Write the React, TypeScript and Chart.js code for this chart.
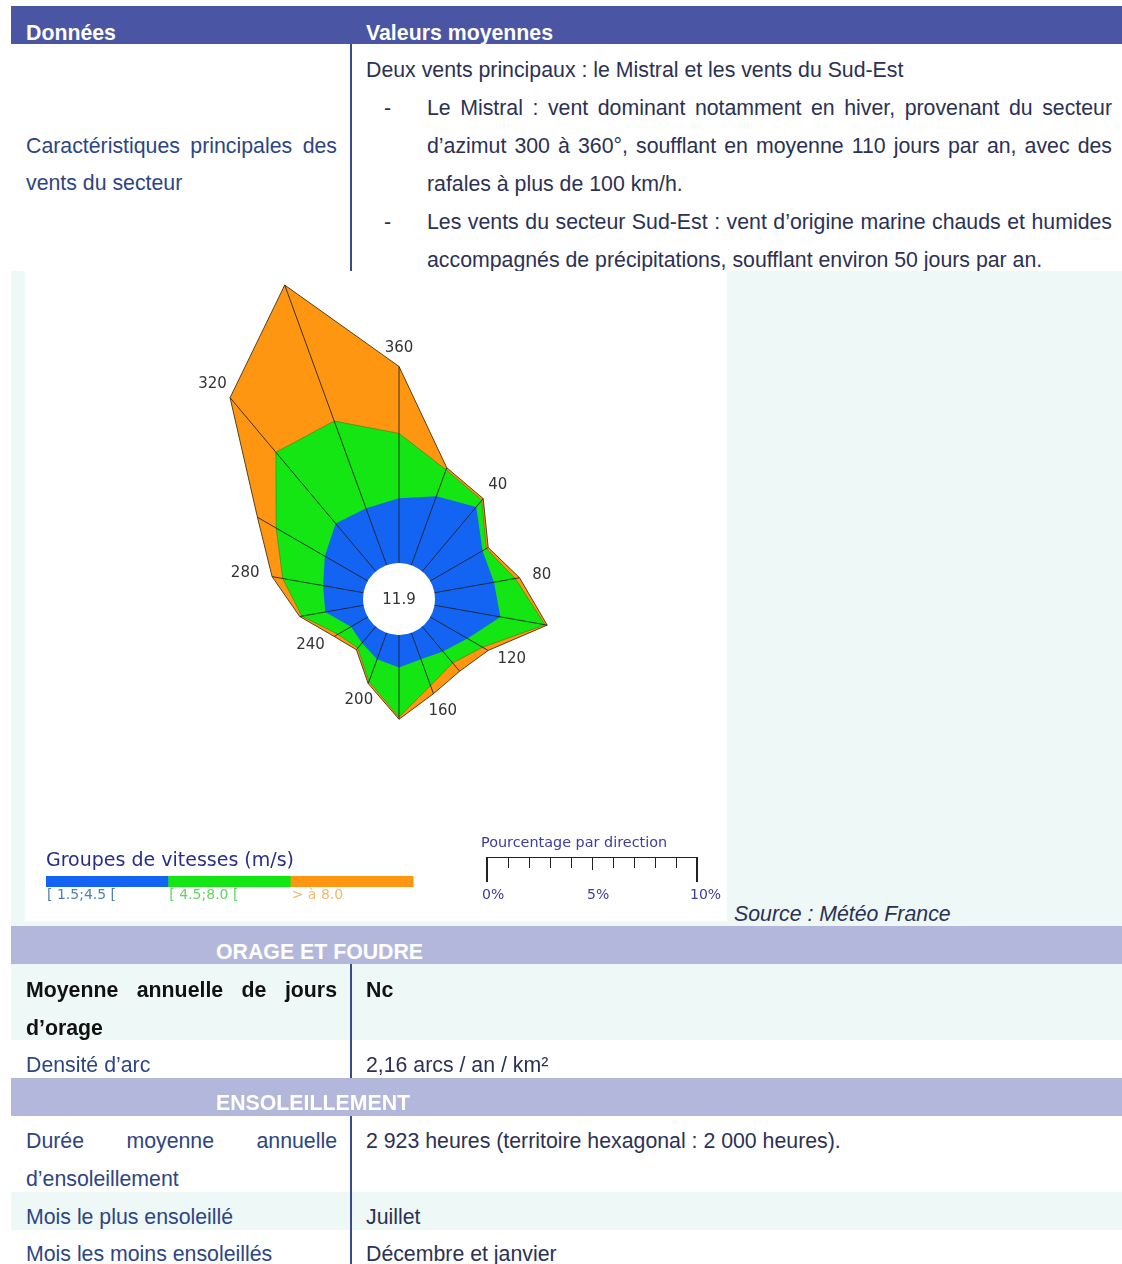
import React, { useEffect, useRef } from "react";
import { Chart, registerables } from "chart.js";

Chart.register(...registerables);

// ---- Wind rose data (percentage of observations per direction and speed group) ----
const DIRECTIONS = [0, 20, 40, 60, 80, 100, 120, 140, 160, 180, 200, 220, 240, 260, 280, 300, 320, 340];
const LABELLED_DIRECTIONS = [40, 80, 120, 160, 200, 240, 280, 320, 360];
const SPEED_GROUPS = ["[ 1.5;4.5 [", "[ 4.5;8.0 [", "> à 8.0"];
const PCT_1_5_TO_4_5 = [3.0, 3.4, 3.9, 2.8, 2.8, 3.1, 2.0, 1.5, 1.3, 1.5, 1.3, 1.0, 0.9, 1.8, 1.9, 2.3, 2.9, 2.8];
const PCT_4_5_TO_8_0 = [3.0, 1.3, 0.4, 0.2, 1.0, 2.1, 0.8, 0.7, 1.3, 2.3, 1.1, 0.3, 0.7, 1.1, 1.9, 2.6, 4.3, 4.3];
const PCT_OVER_8_0 = [3.1, 0.1, 0.1, 0.1, 0.2, 0.1, 0.3, 0.5, 0.4, 0.1, 0.1, 0.1, 0.2, 0.1, 0.5, 1.0, 3.3, 6.7];
const CALM_PCT = 11.9;
const SCALE_BAR_TICKS = [0, 5, 10];

const GROUP_COLORS = ["#1464f4", "#14e614", "#ff9612"];
const GROUP_TEXT_COLORS = ["#4f7fb8", "#62d462", "#f2b764"];

const FONT = '"Liberation Sans", Arial, sans-serif';
const CHART_FONT = '"DejaVu Sans", sans-serif';

// rose geometry
const CANVAS_W = 748;
const CANVAS_H = 656;
const HOLE_PX = 36;
const PX_PER_PCT = 21.6;
const DRAW_AREA = Math.floor(Math.min(CANVAS_W, CANVAS_H) / 2);
const R_MIN = -HOLE_PX / PX_PER_PCT;
const R_MAX = R_MIN + DRAW_AREA / PX_PER_PCT;

const cumBlue = PCT_1_5_TO_4_5.slice();
const cumGreen = cumBlue.map((v, i) => v + PCT_4_5_TO_8_0[i]);
const cumOrange = cumGreen.map((v, i) => v + PCT_OVER_8_0[i]);

// offsets of the canvas in the page
const OX = 25;
const OY = 271;

const rosePlugin = {
  id: "rosePlugin",
  afterDatasetsDraw(chart: any) {
    const ctx = chart.ctx;
    const r = chart.scales.r;
    ctx.save();
    // hole
    const hole = r.getDistanceFromCenterForValue(0);
    ctx.fillStyle = "#ffffff";
    ctx.beginPath();
    ctx.arc(r.xCenter, r.yCenter, hole, 0, Math.PI * 2);
    ctx.fill();
    // spokes
    ctx.strokeStyle = "rgba(30,30,30,0.85)";
    ctx.lineWidth = 1;
    DIRECTIONS.forEach((_d, i) => {
      const a = r.getPointPositionForValue(i, 0);
      const b = r.getPointPositionForValue(i, cumOrange[i]);
      ctx.beginPath();
      ctx.moveTo(a.x, a.y);
      ctx.lineTo(b.x, b.y);
      ctx.stroke();
    });
    // calm
    ctx.fillStyle = "#333333";
    ctx.font = "15px " + CHART_FONT;
    ctx.textAlign = "center";
    ctx.textBaseline = "middle";
    ctx.fillText(CALM_PCT.toFixed(1), r.xCenter, r.yCenter + 1);
    // direction labels
    LABELLED_DIRECTIONS.forEach((deg) => {
      const i = DIRECTIONS.indexOf(deg % 360);
      const p = r.getPointPositionForValue(i, cumOrange[i]);
      const ang = (deg * Math.PI) / 180;
      const dx = Math.sin(ang);
      const dy = -Math.cos(ang);
      const txt = String(deg);
      const hw = ctx.measureText(txt).width / 2;
      ctx.fillText(txt, p.x + dx * (13 + hw), p.y + dy * (13 + 5));
    });
    ctx.restore();
  },
  afterDraw(chart: any) {
    const ctx = chart.ctx;
    ctx.save();
    ctx.textBaseline = "middle";
    ctx.textAlign = "left";
    // speed groups legend
    ctx.fillStyle = "#262f88";
    ctx.font = "19px " + CHART_FONT;
    ctx.fillText("Groupes de vitesses (m/s)", 46 - OX, 861 - OY);
    const bw = (413 - 46) / SPEED_GROUPS.length;
    SPEED_GROUPS.forEach((g, k) => {
      ctx.fillStyle = GROUP_COLORS[k];
      ctx.fillRect(46 - OX + k * bw, 876 - OY, bw + 0.5, 11);
      ctx.fillStyle = GROUP_TEXT_COLORS[k];
      ctx.font = "14px " + CHART_FONT;
      ctx.fillText(g, 46 - OX + k * bw + 1, 895 - OY);
    });
    // scale bar
    ctx.fillStyle = "#3d3d9c";
    ctx.font = "14.4px " + CHART_FONT;
    ctx.fillText("Pourcentage par direction", 481 - OX, 843 - OY);
    const x0 = 487 - OX;
    const unit = 21;
    const yb = 857 - OY;
    ctx.strokeStyle = "#222222";
    ctx.lineWidth = 1;
    ctx.beginPath();
    ctx.moveTo(x0, yb + 0.5);
    ctx.lineTo(x0 + 10 * unit, yb + 0.5);
    ctx.stroke();
    for (let i = 1; i < 10; i++) {
      ctx.beginPath();
      ctx.moveTo(Math.round(x0 + i * unit) + 0.5, yb);
      ctx.lineTo(Math.round(x0 + i * unit) + 0.5, yb + (i === 5 ? 13 : 11));
      ctx.stroke();
    }
    ctx.lineWidth = 2;
    [0, 10].forEach((v) => {
      ctx.beginPath();
      ctx.moveTo(x0 + v * unit, yb);
      ctx.lineTo(x0 + v * unit, yb + 25);
      ctx.stroke();
    });
    ctx.fillStyle = "#3d3d9c";
    ctx.font = "14px " + CHART_FONT;
    SCALE_BAR_TICKS.forEach((v) => {
      ctx.fillText(v + "%", x0 + v * unit - (v === 10 ? 7 : 5), 895 - OY);
    });
    ctx.restore();
  },
};

function WindRose() {
  const ref = useRef<HTMLCanvasElement | null>(null);
  useEffect(() => {
    if (!ref.current) return;
    const chart = new Chart(ref.current, {
      type: "radar",
      data: {
        labels: DIRECTIONS.map(String),
        datasets: [
          {
            label: SPEED_GROUPS[0],
            data: cumBlue,
            backgroundColor: GROUP_COLORS[0],
            borderColor: GROUP_COLORS[0],
            borderWidth: 0,
            fill: "origin",
            pointRadius: 0,
          },
          {
            label: SPEED_GROUPS[1],
            data: cumGreen,
            backgroundColor: GROUP_COLORS[1],
            borderColor: "rgba(40,90,20,0.6)",
            borderWidth: 0.7,
            fill: "origin",
            pointRadius: 0,
          },
          {
            label: SPEED_GROUPS[2],
            data: cumOrange,
            backgroundColor: GROUP_COLORS[2],
            borderColor: "rgba(70,50,20,0.9)",
            borderWidth: 1,
            fill: "origin",
            pointRadius: 0,
          },
        ],
      },
      options: {
        responsive: false,
        maintainAspectRatio: false,
        animation: false,
        devicePixelRatio: 1,
        layout: { padding: 0 },
        elements: { line: { tension: 0 } },
        plugins: { legend: { display: false }, tooltip: { enabled: false } },
        scales: {
          r: {
            min: R_MIN,
            max: R_MAX,
            ticks: { display: false },
            grid: { display: false },
            angleLines: { display: false },
            pointLabels: { display: false },
          },
        },
      } as any,
      plugins: [rosePlugin],
    });
    (chart.data.datasets as any[]).forEach((d) => (d.clip = false));
    chart.update();
    return () => chart.destroy();
  }, []);
  return (
    <canvas
      ref={ref}
      width={CANVAS_W}
      height={CANVAS_H}
      style={{ position: "absolute", left: OX, top: OY, width: CANVAS_W, height: CANVAS_H }}
    />
  );
}

const LEFT_COLOR = "#2c4584";
const RIGHT_COLOR = "#2b3154";

function Box({ x, y, w, h, bg }: any) {
  return <div style={{ position: "absolute", left: x, top: y, width: w, height: h, background: bg }} />;
}

function Line({ x, cy, w, justify, bold, italic, color, children }: any) {
  const style: any = {
    position: "absolute",
    left: x,
    top: cy - 19,
    height: 38,
    lineHeight: "38px",
    fontFamily: FONT,
    fontSize: 21.3,
    fontWeight: bold ? 700 : 400,
    fontStyle: italic ? "italic" : "normal",
    color,
    whiteSpace: "nowrap",
  };
  if (w) style.width = w;
  if (justify) {
    style.textAlign = "justify";
    style.textAlignLast = "justify";
  }
  return <div style={style}>{children}</div>;
}

export default function App() {
  useEffect(() => {
    document.body.style.overflow = "hidden";
  }, []);
  const HEADER = "#4a55a3";
  const BAND = "#b4b7dc";
  const MINT = "#eef8f6";
  const DIV = "#3b4a8f";
  return (
    <div style={{ position: "absolute", left: 0, top: 0, width: 1122, height: 1264, overflow: "hidden", background: "#fff" }}>
      {/* header */}
      <Box x={11} y={6} w={1111} h={38} bg={HEADER} />
      <Line x={26} cy={33} bold color="#fff">Données</Line>
      <Line x={366} cy={33} bold color="#fff">Valeurs moyennes</Line>
      <Box x={350} y={44} w={2} h={227} bg={DIV} />

      {/* wind row text */}
      <Line x={26} cy={146} w={311} justify color={LEFT_COLOR}>Caractéristiques principales des</Line>
      <Line x={26} cy={183} color={LEFT_COLOR}>vents du secteur</Line>
      <Line x={366} cy={70} color={RIGHT_COLOR}>Deux vents principaux : le Mistral et les vents du Sud-Est</Line>
      <Line x={384} cy={108} color={RIGHT_COLOR}>-</Line>
      <Line x={427} cy={108} w={685} justify color={RIGHT_COLOR}>Le Mistral : vent dominant notamment en hiver, provenant du secteur</Line>
      <Line x={427} cy={146} w={685} justify color={RIGHT_COLOR}>d’azimut 300 à 360°, soufflant en moyenne 110 jours par an, avec des</Line>
      <Line x={427} cy={184} color={RIGHT_COLOR}>rafales à plus de 100 km/h.</Line>
      <Line x={384} cy={222} color={RIGHT_COLOR}>-</Line>
      <Line x={427} cy={222} w={685} justify color={RIGHT_COLOR}>Les vents du secteur Sud-Est : vent d’origine marine chauds et humides</Line>
      <Line x={427} cy={260} color={RIGHT_COLOR}>accompagnés de précipitations, soufflant environ 50 jours par an.</Line>

      {/* chart row */}
      <Box x={11} y={271} w={1111} h={655} bg={MINT} />
      <Box x={25} y={271} w={702} h={650} bg="#ffffff" />
      <Line x={734} cy={914} italic color={RIGHT_COLOR}>Source : Météo France</Line>
      <WindRose />

      {/* orage */}
      <Box x={11} y={926} w={1111} h={38} bg={BAND} />
      <Line x={216} cy={952} bold color="#fff">ORAGE ET FOUDRE</Line>
      <Box x={11} y={964} w={1111} h={76} bg={MINT} />
      <Line x={26} cy={990} w={311} justify bold color="#111">Moyenne annuelle de jours</Line>
      <Line x={26} cy={1028} bold color="#111">d’orage</Line>
      <Line x={366} cy={990} bold color="#111">Nc</Line>
      <Line x={26} cy={1065} color={LEFT_COLOR}>Densité d’arc</Line>
      <Line x={366} cy={1065} color={RIGHT_COLOR}>2,16 arcs / an / km²</Line>
      <Box x={350} y={964} w={2} h={114} bg={DIV} />

      {/* ensoleillement */}
      <Box x={11} y={1078} w={1111} h={38} bg={BAND} />
      <Line x={216} cy={1103} bold color="#fff">ENSOLEILLEMENT</Line>
      <Line x={26} cy={1141} w={311} justify color={LEFT_COLOR}>Durée moyenne annuelle</Line>
      <Line x={26} cy={1179} color={LEFT_COLOR}>d’ensoleillement</Line>
      <Line x={366} cy={1141} color={RIGHT_COLOR}>2 923 heures (territoire hexagonal : 2 000 heures).</Line>
      <Box x={11} y={1192} w={1111} h={38} bg={MINT} />
      <Line x={26} cy={1217} color={LEFT_COLOR}>Mois le plus ensoleillé</Line>
      <Line x={366} cy={1217} color={RIGHT_COLOR}>Juillet</Line>
      <Line x={26} cy={1254} color={LEFT_COLOR}>Mois les moins ensoleillés</Line>
      <Line x={366} cy={1254} color={RIGHT_COLOR}>Décembre et janvier</Line>
      <Box x={350} y={1116} w={2} h={148} bg={DIV} />
    </div>
  );
}
